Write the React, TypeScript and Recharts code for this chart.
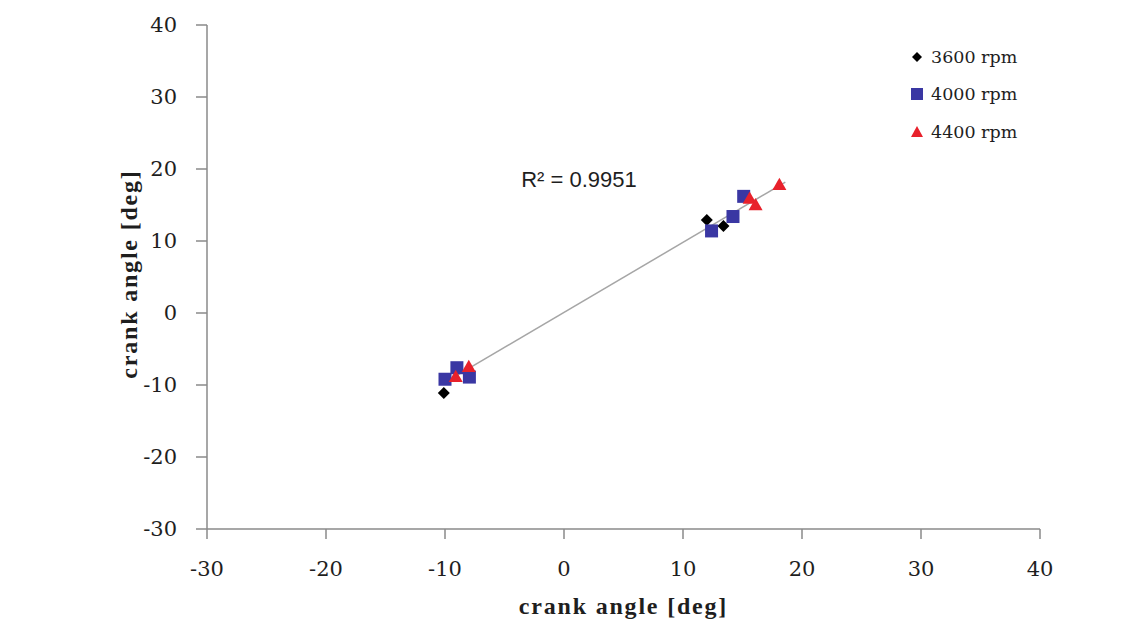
import React from 'react';
import {
  ScatterChart, Scatter, XAxis, YAxis, ReferenceDot, ReferenceLine,
} from 'recharts';

const xTicks = [-30, -20, -10, 0, 10, 20, 30, 40];
const yTicks = [-30, -20, -10, 0, 10, 20, 30, 40];

const rpm3600 = [
  { x: -10.1, y: -11.1 },
  { x: 12.0, y: 12.9 },
  { x: 13.4, y: 12.1 },
];
const rpm4000 = [
  { x: -10.0, y: -9.2 },
  { x: -9.0, y: -7.6 },
  { x: -7.95, y: -8.9 },
  { x: 12.4, y: 11.4 },
  { x: 14.2, y: 13.4 },
  { x: 15.1, y: 16.2 },
];
const rpm4400 = [
  { x: -8.0, y: -7.45 },
  { x: -9.1, y: -8.85 },
  { x: 15.6, y: 15.9 },
  { x: 16.1, y: 15.0 },
  { x: 18.1, y: 17.8 },
];
const trendEnds = [
  { x: -9.5, y: -9.14 },
  { x: 18.6, y: 18.17 },
];
const r2Text = 'R\u00B2 = 0.9951';
const r2Pos = { x: 1.26, y: 18.65 };
const seriesNames = ['3600 rpm', '4000 rpm', '4400 rpm'];
const axisTitle = 'crank angle [deg]';

const BLACK = '#000000';
const BLUE = '#3a37a3';
const RED = '#e8212b';
const AXIS = '#8a8a8a';
const TEXT = '#1e1e1e';
const SERIF = '"DejaVu Serif", "Liberation Serif", serif';
const TITLE_FONT = '"Liberation Serif", "DejaVu Serif", serif';

const Diamond = (props: any) => {
  const { cx, cy } = props;
  const s = 6;
  return <polygon points={`${cx},${cy - s} ${cx + s},${cy} ${cx},${cy + s} ${cx - s},${cy}`} fill={BLACK} />;
};
const Square = (props: any) => {
  const { cx, cy } = props;
  const s = 6.5;
  return <rect x={cx - s} y={cy - s} width={2 * s} height={2 * s} fill={BLUE} />;
};
const Triangle = (props: any) => {
  const { cx, cy } = props;
  const s = 7;
  return <polygon points={`${cx},${cy - s} ${cx + s},${cy + s * 0.75} ${cx - s},${cy + s * 0.75}`} fill={RED} />;
};

const XTitle = (props: any) => {
  const vb = props.viewBox || {};
  const cx = vb.x + vb.width / 2;
  return (
    <text x={cx} y={vb.y + vb.height - 11} textAnchor="middle" fill={TEXT} fontFamily={TITLE_FONT} fontSize={24} fontWeight="bold" letterSpacing={1.8}>
      {axisTitle}
    </text>
  );
};
const YTitle = (props: any) => {
  const vb = props.viewBox || {};
  const cx = vb.x + 37;
  const cy = vb.y + vb.height / 2 - 3;
  return (
    <text x={cx} y={cy} transform={`rotate(-90, ${cx}, ${cy})`} textAnchor="middle" fill={TEXT} fontFamily={TITLE_FONT} fontSize={24} fontWeight="bold" letterSpacing={1.8}>
      {axisTitle}
    </text>
  );
};

const LegendBox = () => {
  const icons = [
    <svg width="14" height="14" key="d"><polygon points="7,2 12,7 7,12 2,7" fill={BLACK} /></svg>,
    <svg width="14" height="14" key="s"><rect x="1" y="1" width="12" height="12" fill={BLUE} /></svg>,
    <svg width="14" height="14" key="t"><polygon points="7,1 13,12 1,12" fill={RED} /></svg>,
  ];
  return (
    <div style={{ position: 'absolute', left: 910, top: 38, fontFamily: SERIF, fontSize: 17.5, color: TEXT }}>
      {seriesNames.map((n, i) => (
        <div key={n} style={{ display: 'flex', alignItems: 'center', height: 37.5 }}>
          <span style={{ display: 'inline-flex', width: 16 }}>{icons[i]}</span>
          <span style={{ marginLeft: 5 }}>{n}</span>
        </div>
      ))}
    </div>
  );
};

export default function App() {
  return (
    <div style={{ position: 'fixed', left: 0, top: 0, width: 1143, height: 625, background: '#fff' }}>
      <ScatterChart width={1143} height={625} margin={{ top: 25, right: 103, bottom: 0, left: 100 }}>
        <XAxis
          type="number"
          dataKey="x"
          domain={[-30, 40]}
          ticks={xTicks}
          interval={0}
          stroke={AXIS}
          strokeWidth={1.5}
          tickSize={10}
          tickMargin={22}
          height={96}
          tick={{ fill: TEXT, fontFamily: SERIF, fontSize: 21 }}
          label={<XTitle />}
        />
        <YAxis
          type="number"
          dataKey="y"
          domain={[-30, 40]}
          ticks={yTicks}
          interval={0}
          stroke={AXIS}
          strokeWidth={1.5}
          tickSize={11}
          tickMargin={19}
          width={107}
          tick={{ fill: TEXT, fontFamily: SERIF, fontSize: 21 }}
          label={<YTitle />}
        />
        <ReferenceLine segment={trendEnds} stroke="#a6a6a6" strokeWidth={1.5} />
        <Scatter name={seriesNames[0]} data={rpm3600} shape={Diamond} isAnimationActive={false} />
        <Scatter name={seriesNames[1]} data={rpm4000} shape={Square} isAnimationActive={false} />
        <Scatter name={seriesNames[2]} data={rpm4400} shape={Triangle} isAnimationActive={false} />
        <ReferenceDot
          x={r2Pos.x}
          y={r2Pos.y}
          r={0}
          fill="none"
          stroke="none"
          label={{ value: r2Text, position: 'center', fill: TEXT, fontFamily: '"Liberation Sans", Arial, sans-serif', fontSize: 22 }}
        />
      </ScatterChart>
      <LegendBox />
    </div>
  );
}
